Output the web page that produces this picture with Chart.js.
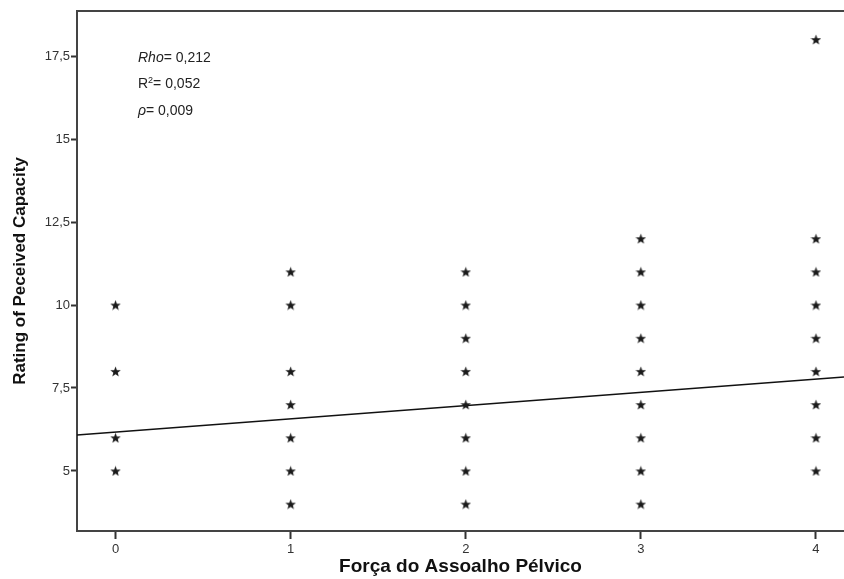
<!DOCTYPE html>
<html>
<head>
<meta charset="utf-8">
<script src="https://cdn.jsdelivr.net/npm/chart.js@4"></script>
<style>
  html, body { margin: 0; padding: 0; background: #fff; }
  #wrap { width: 844px; height: 579px; }
</style>
</head>
<body>
<div id="wrap"><canvas id="scatterChart"></canvas></div>
<script>
// pelvic floor strength (x) vs rating of perceived capacity (y)
const forca = [0, 0, 0, 0,
  1, 1, 1, 1, 1, 1, 1,
  2, 2, 2, 2, 2, 2, 2, 2,
  3, 3, 3, 3, 3, 3, 3, 3, 3,
  4, 4, 4, 4, 4, 4, 4, 4, 4];
const rating = [10, 8, 6, 5,
  11, 10, 8, 7, 6, 5, 4,
  11, 10, 9, 8, 7, 6, 5, 4,
  12, 11, 10, 9, 8, 7, 6, 5, 4,
  18, 12, 11, 10, 9, 8, 7, 6, 5];

// fit line
const intercept = 6.17;
const slope = 0.4;

const xTicks = [0, 1, 2, 3, 4];
const yTicks = [5, 7.5, 10, 12.5, 15, 17.5];
const xRange = [-0.22, 4.16];
const yRange = [3.19, 18.86];

const statLines = [
  { label: "Rho", rest: "= 0,212" },
  { label: "R", sup: "2", rest: "= 0,052" },
  { label: "ρ", rest: "= 0,009" },
];

const FONT = "'Liberation Sans', Arial, sans-serif";

// filled five point star for the markers
function makeStar(size, color) {
  const c = document.createElement("canvas");
  c.width = size;
  c.height = size;
  const g = c.getContext("2d");
  const cx = size / 2, cy = size / 2 + 0.5;
  const outer = size / 2, inner = outer * 0.42;
  g.beginPath();
  for (let i = 0; i < 10; i++) {
    const r = i % 2 === 0 ? outer : inner;
    const a = -Math.PI / 2 + i * Math.PI / 5;
    const px = cx + r * Math.cos(a), py = cy + r * Math.sin(a);
    if (i === 0) g.moveTo(px, py); else g.lineTo(px, py);
  }
  g.closePath();
  g.fillStyle = color;
  g.fill();
  return c;
}
const starImg = makeStar(11, "#1a1a1a");

const points = forca.map((x, i) => ({ x: x, y: rating[i] }));
const fitLine = xRange.map(x => ({ x: x, y: intercept + slope * x }));

const extras = {
  id: "extras",
  afterDraw(chart) {
    const ctx = chart.ctx;
    const a = chart.chartArea;
    ctx.save();
    // top frame line
    ctx.strokeStyle = "#444";
    ctx.lineWidth = 2;
    ctx.beginPath();
    ctx.moveTo(a.left - 1, a.top);
    ctx.lineTo(chart.width, a.top);
    ctx.stroke();

    // stats box text
    ctx.fillStyle = "#222";
    ctx.textBaseline = "middle";
    const x0 = a.left + 61;
    statLines.forEach((s, i) => {
      const y = a.top + 47 + i * 26.5;
      let x = x0;
      if (s.sup) {
        ctx.font = "14px " + FONT;
        ctx.fillText(s.label, x, y);
        x += ctx.measureText(s.label).width;
        ctx.font = "9px " + FONT;
        ctx.fillText(s.sup, x, y - 4);
        x += ctx.measureText(s.sup).width;
      } else {
        ctx.font = "italic 14px " + FONT;
        ctx.fillText(s.label, x, y);
        x += ctx.measureText(s.label).width;
      }
      ctx.font = "14px " + FONT;
      ctx.fillText(s.rest, x, y);
    });
    ctx.restore();
  },
};

const config = {
  type: "scatter",
  data: {
    datasets: [
      {
        data: points,
        pointStyle: starImg,
        pointRadius: 5,
        pointHoverRadius: 5,
      },
      {
        type: "line",
        data: fitLine,
        borderColor: "#111",
        borderWidth: 1.5,
        pointRadius: 0,
        fill: false,
      },
    ],
  },
  options: {
    responsive: true,
    maintainAspectRatio: false,
    animation: false,
    layout: {
      autoPadding: false,
      padding: { top: 11, right: 0, left: 0, bottom: 0 },
    },
    plugins: {
      legend: { display: false },
      tooltip: { enabled: false },
    },
    scales: {
      x: {
        type: "linear",
        min: xRange[0],
        max: xRange[1],
        afterBuildTicks: (scale) => {
          scale.ticks = xTicks.map(v => ({ value: v }));
        },
        afterFit: (scale) => {
          scale.height = 48;
          scale.paddingLeft = 0;
          scale.paddingRight = 0;
        },
        grid: {
          display: true,
          drawOnChartArea: false,
          tickLength: 8,
          tickColor: "#333",
          tickWidth: 2,
        },
        border: { color: "#444", width: 2 },
        ticks: {
          color: "#333",
          font: { family: FONT, size: 13 },
          padding: 3,
        },
        title: {
          display: true,
          text: "Força do Assoalho Pélvico",
          color: "#111",
          font: { family: FONT, size: 19, weight: "bold" },
          padding: { top: 0, bottom: 1 },
        },
      },
      y: {
        type: "linear",
        min: yRange[0],
        max: yRange[1],
        afterBuildTicks: (scale) => {
          scale.ticks = yTicks.map(v => ({ value: v }));
        },
        afterFit: (scale) => { scale.width = 77; },
        grid: {
          display: true,
          drawOnChartArea: false,
          tickLength: 6,
          tickColor: "#333",
          tickWidth: 2,
        },
        border: { color: "#444", width: 2 },
        ticks: {
          color: "#333",
          font: { family: FONT, size: 13 },
          padding: 1,
          callback: (v) => String(v).replace(".", ","),
        },
        title: {
          display: true,
          text: "Rating of Peceived Capacity",
          color: "#111",
          font: { family: FONT, size: 17, weight: "bold" },
          padding: { top: 10, bottom: 0 },
        },
      },
    },
  },
  plugins: [extras],
};

new Chart(document.getElementById("scatterChart"), config);
</script>
</body>
</html>
